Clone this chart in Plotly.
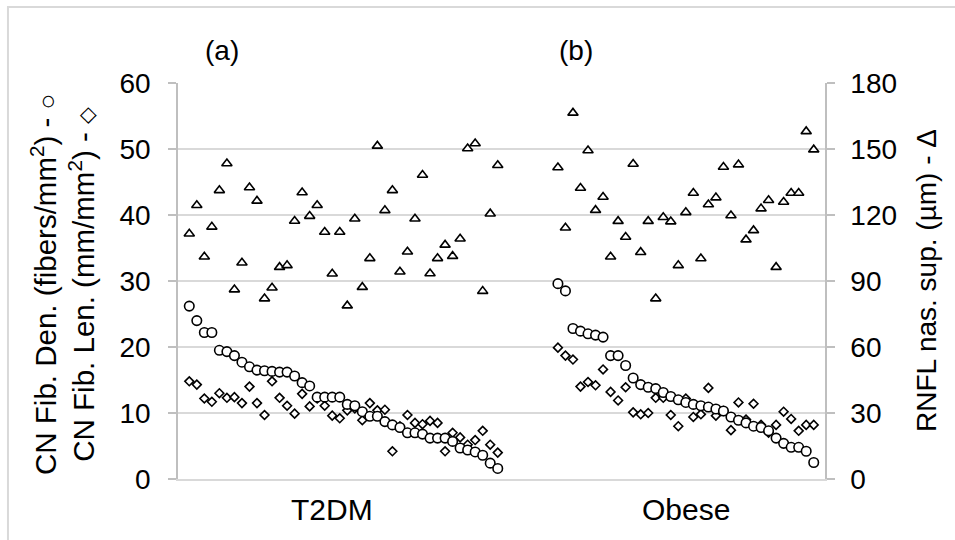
import plotly.graph_objects as go

# ---- data ----
t2dm_den = [26.2, 24.0, 22.2, 22.2, 19.5, 19.3, 18.7, 17.7, 17.0, 16.5, 16.4, 16.3, 16.2, 16.2,
            15.6, 14.6, 14.1, 12.4, 12.4, 12.4, 12.4, 11.3, 11.1, 10.2, 9.5, 9.5, 8.7, 8.2, 7.8,
            7.0, 7.0, 6.8, 6.2, 6.2, 6.2, 5.7, 4.7, 4.4, 4.1, 3.6, 2.4, 1.6]
t2dm_len = [14.8, 14.3, 12.2, 11.7, 13.0, 12.3, 12.4, 11.5, 14.0, 11.5, 9.7, 14.8, 12.3, 11.1,
            9.9, 12.9, 11.0, 12.2, 11.1, 9.6, 9.2, 10.4, 10.7, 8.9, 11.5, 10.4, 10.5, 4.2, 8.0,
            9.7, 8.5, 8.3, 8.8, 8.5, 4.2, 7.0, 6.3, 5.2, 5.9, 7.3, 5.2, 4.0]
t2dm_rnfl = [111.5, 124.4, 101, 114.6, 131.2, 143.4, 86.1, 98.3, 132.5, 126.4, 82, 86.9, 96.3,
             97.1, 117.3, 130.2, 119.5, 124.4, 112.3, 93.3, 112.3, 78.8, 118.3, 87.2, 100.3,
             151.4, 122.1, 131.2, 94.2, 103.3, 118.3, 138.2, 93.4, 100.3, 106.4, 101.3, 109.2,
             150.2, 152.5, 85.4, 120.6, 142.6]

obese_den = [29.6, 28.5, 22.8, 22.4, 22.0, 21.8, 21.5, 18.7, 18.7, 17.2, 15.3, 14.3, 13.9, 13.7,
             13.1, 12.5, 12.0, 11.6, 11.3, 11.1, 10.9, 10.6, 10.3, 9.4, 8.9, 8.5, 8.0, 7.8, 7.3,
             6.2, 5.4, 4.8, 4.8, 4.2, 2.5]
obese_len = [19.9, 18.7, 18.1, 14.0, 14.7, 14.2, 16.6, 13.2, 11.9, 13.9, 10.1, 9.8, 10.0, 12.3,
             12.3, 9.7, 8.0, 12.2, 9.4, 9.8, 13.8, 9.6, 10.3, 7.4, 11.6, 9.0, 11.4, 8.2, 7.0, 8.2,
             10.2, 9.1, 7.3, 8.2, 8.2]
obese_rnfl = [141.6, 114.2, 166.4, 132.3, 149.3, 122.2, 128.2, 101, 117.2, 110, 143.2, 103.1,
              117.2, 82, 119, 117, 97.1, 121.2, 130, 100.2, 124.8, 127.9, 141.8, 119.8, 142.9,
              108.8, 113, 122.9, 126.7, 96.3, 125.9, 130, 130, 158, 149.7]

group_names = ["T2DM", "Obese"]
panel_tags = ["(a)", "(b)"]
left_ticks = [0, 10, 20, 30, 40, 50, 60]
right_ticks = [0, 30, 60, 90, 120, 150, 180]

# category slots: one empty slot before T2DM, 7 empty slots between the groups, one after
t2dm_x = [1 + i for i in range(len(t2dm_den))]
obese_start = t2dm_x[-1] + 8
obese_x = [obese_start + i for i in range(len(obese_den))]
n_slots = obese_x[-1] + 2

den_x = t2dm_x + obese_x
den_y = t2dm_den + obese_den
len_y = t2dm_len + obese_len
rnfl_y = t2dm_rnfl + obese_rnfl

FONT = "Liberation Sans, Arial, sans-serif"
mk_line = dict(color="black", width=1.6)

fig = go.Figure()
fig.add_trace(go.Scatter(x=den_x, y=len_y, mode="markers", name="Len",
                         marker=dict(symbol="diamond", size=6.8, color="white", line=mk_line)))
fig.add_trace(go.Scatter(x=den_x, y=den_y, mode="markers", name="Den",
                         marker=dict(symbol="circle", size=9.5, color="white", line=mk_line)))
fig.add_trace(go.Scatter(x=den_x, y=rnfl_y, mode="markers", name="RNFL", yaxis="y2",
                         marker=dict(symbol="triangle-up", size=9, color="white", line=mk_line)))

grid_c = "#d9d9d9"
axis_c = "#bfbfbf"

fig.update_layout(
    width=955, height=540,
    margin=dict(l=178, r=130, t=83, b=61),
    paper_bgcolor="white", plot_bgcolor="white",
    showlegend=False,
    font=dict(family=FONT, color="black", size=28),
    xaxis=dict(range=[-0.5, n_slots - 0.5], showgrid=False, zeroline=False,
               showticklabels=False, ticks="", showline=True, linecolor=grid_c, linewidth=1.5),
    yaxis=dict(range=[0, 60], tickvals=left_ticks, showgrid=True, gridcolor=grid_c, gridwidth=1.5,
               zeroline=False, showline=True, linecolor=axis_c, linewidth=1.5,
               ticks="outside", ticklen=8, tickcolor=axis_c, tickwidth=1.5,
               tickfont=dict(size=28, family=FONT, color="black"), ticklabelstandoff=12),
    yaxis2=dict(range=[0, 180], tickvals=right_ticks, overlaying="y", side="right",
                showgrid=False, zeroline=False, showline=True, linecolor=axis_c, linewidth=1.5,
                ticks="outside", ticklen=8, tickcolor=axis_c, tickwidth=1.5,
                tickfont=dict(size=28, family=FONT, color="black"), ticklabelstandoff=10),
)

# outer chart border
fig.add_shape(type="rect", xref="paper", yref="paper", x0=-0.2628, x1=1.35, y0=-0.25, y1=1.1919,
              line=dict(color=grid_c, width=2), fillcolor="rgba(0,0,0,0)", layer="below")

# axis titles
fig.add_annotation(xref="paper", yref="paper", x=-0.178, y=0.492, xanchor="center", yanchor="middle",
                   textangle=-90, showarrow=False, font=dict(size=29.5, family=FONT),
                   text="CN Fib. Den. (fibers/mm<sup>2</sup>) - " +
                        '<span style="font-size:26px">○</span>' +
                        "<br>CN Fib. Len. (mm/mm<sup>2</sup>) - " +
                        '<span style="font-size:22px">◇</span>')
fig.add_annotation(xref="paper", yref="paper", x=1.156, y=0.5025, xanchor="center", yanchor="middle",
                   textangle=-90, showarrow=False, font=dict(size=28, family=FONT),
                   text="RNFL nas. sup. (µm) - Δ")

# group labels and panel tags
group_centers = [(t2dm_x[0] + t2dm_x[-1]) / 2 - 1.5, (obese_x[0] + obese_x[-1]) / 2]
for name, cx in zip(group_names, group_centers):
    fig.add_annotation(xref="x", yref="paper", x=cx, y=-0.0758, xanchor="center", yanchor="middle",
                       showarrow=False, text=name, font=dict(size=30, family=FONT))
tag_pos = [0.068, 0.615]
for tag, px in zip(panel_tags, tag_pos):
    fig.add_annotation(xref="paper", yref="paper", x=px, y=1.083, xanchor="center", yanchor="middle",
                       showarrow=False, text=tag, font=dict(size=28, family=FONT))

fig.write_html("out.html")
